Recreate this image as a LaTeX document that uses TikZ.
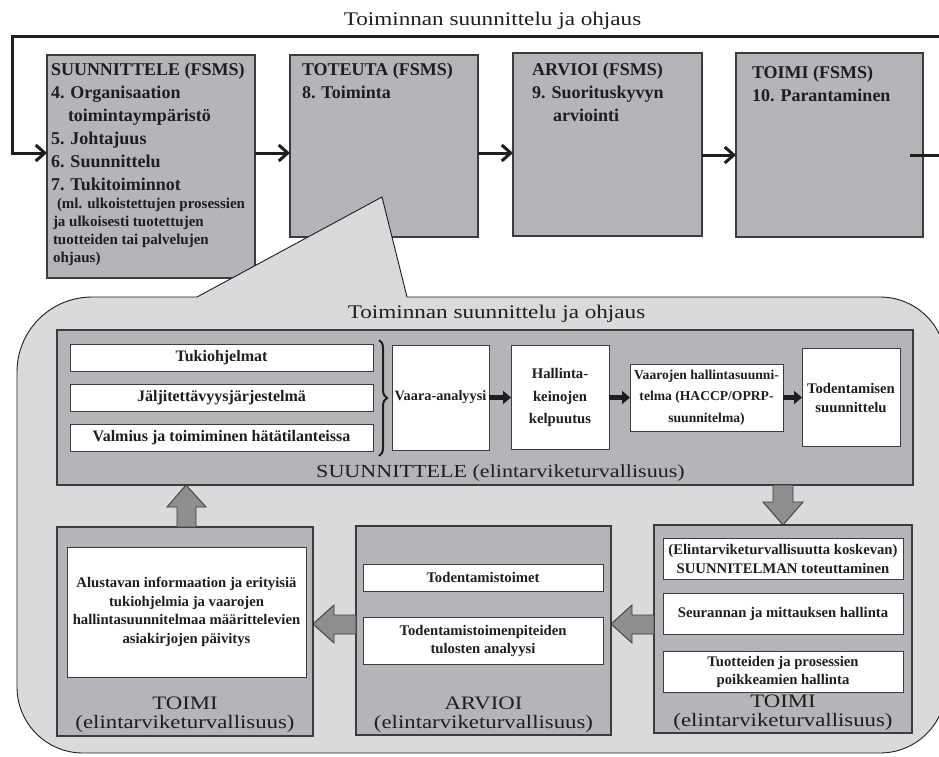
\documentclass[tikz,border=0pt]{standalone}
\usepackage{fontspec}
\setmainfont{Liberation Serif}
\newfontfamily\widefont{Liberation Serif}[FakeStretch=1.2]
\usetikzlibrary{arrows.meta,decorations.pathreplacing,calc}

\definecolor{boxgray}{HTML}{B4B5B8}
\definecolor{panelgray}{HTML}{D9DADB}
\definecolor{arrowgray}{HTML}{8D8E90}
\definecolor{edge}{HTML}{3C3C3C}
\definecolor{ink}{HTML}{1E1E1E}

\newcommand\fs[2]{\fontsize{#1}{#2}\selectfont}

\tikzset{
  every node/.style={inner sep=0pt, outer sep=0pt, text=ink},
  sized/.style 2 args={minimum width=#1pt, minimum height=#2pt},
  fsmsbox/.style={draw=edge, line width=1.1pt, fill=boxgray},
  fsmstext/.style={anchor=north west, align=left, font=\bfseries\fs{18}{23}},
  phasebox/.style={draw=edge, line width=1.1pt, fill=boxgray},
  whitebox/.style={draw=edge, line width=1pt, fill=white, align=center, font=\bfseries\fs{14.7}{18.5}},
  flow/.style={draw=ink, line width=3pt, -{Straight Barb[length=9pt,width=16pt]}},
  stepflow/.style={draw=ink, line width=5pt, -{Triangle[length=8pt,width=13pt]}},
  blockarrow/.style={draw=edge, line width=0.9pt, fill=arrowgray, line join=miter},
  panel/.style={draw=ink, line width=0.9pt, fill=panelgray},
  titletext/.style={font=\widefont\fs{19.3}{23}},
  phaselabel/.style={align=center, font=\widefont\fs{19}{19}},
}

\begin{document}
\begin{tikzpicture}[x=1pt, y=-1pt]
\useasboundingbox (0,0) rectangle (939,757);
\clip (0,0) rectangle (939,757);

% ---------- FSMS cycle ----------
\node[titletext, anchor=base] (toptitle) at (492.5,26) {Toiminnan suunnittelu ja ohjaus};

\node[fsmsbox, sized={208}{223}] (B1) at (151,166.5) {};
\node[fsmsbox, sized={188}{182}] (B2) at (384,146) {};
\node[fsmsbox, sized={189}{183}] (B3) at (607.5,144.5) {};
\node[fsmsbox, sized={187}{184}] (B4) at (829.5,145) {};

\node[fsmstext] (B1t) at (51,63) {SUUNNITTELE (FSMS)\\4. Organisaation\\\hspace*{17pt}toimintaympäristö\\5. Johtajuus\\6. Suunnittelu\\7. Tukitoiminnot};
\node[anchor=north west, align=left, font=\bfseries\fs{15}{18}] (B1s) at (53,198.5)
  {\hspace*{4pt}(ml. ulkoistettujen prosessien\\ja ulkoisesti tuotettujen\\tuotteiden tai palvelujen\\ohjaus)};
\node[fsmstext] (B2t) at (302,63) {TOTEUTA (FSMS)\\8. Toiminta};
\node[fsmstext] (B3t) at (532,63) {ARVIOI (FSMS)\\9. Suorituskyvyn\\\hspace*{21pt}arviointi};
\node[fsmstext] (B4t) at (752,66) {TOIMI (FSMS)\\10. Parantaminen};

\draw[flow] (B1.east |- 0,153) -- (B2.west |- 0,153);
\draw[flow] (B2.east |- 0,153) -- (B3.west |- 0,153);
\draw[flow] (B3.east |- 0,155) -- (B4.west |- 0,155);

\coordinate (loopout) at (910,155);
\draw[flow] (loopout) -- (950,155) -- (950,37) -- (12,37) -- (12,153) -- (B1.west |- 0,153);

% ---------- detail panel called out from TOTEUTA ----------
\path[panel] (197,297) -- (382,197) -- (407,297) -- (880,297)
  arc[start angle=90, end angle=0, radius=66pt] -- (946,687)
  arc[start angle=0, end angle=-90, radius=66pt] -- (83,753)
  arc[start angle=-90, end angle=-180, radius=66pt] -- (17,372)
  arc[start angle=180, end angle=90, radius=75pt] -- cycle;

\node[titletext, anchor=base] (paneltitle) at (496.5,318) {Toiminnan suunnittelu ja ohjaus};

% planning block
\node[phasebox, sized={856}{155}] (S) at (485,407.5) {};
\node[font=\widefont\fs{18.4}{22}, anchor=base] (Slabel) at (500.5,477) {SUUNNITTELE (elintarviketurvallisuus)};

\node[whitebox, sized={303}{27}, font=\bfseries\fs{16}{19}] (L1) at (221.5,357.5) {Tukiohjelmat};
\node[whitebox, sized={303}{27}, font=\bfseries\fs{16}{19}] (L2) at (221.5,397.5) {Jäljitettävyysjärjestelmä};
\node[whitebox, sized={303}{27}, font=\bfseries\fs{16}{19}] (L3) at (221.5,437.5) {Valmius ja toimiminen hätätilanteissa};

\coordinate (braceTop) at (379,340);
\coordinate (braceBot) at (379,456);
\draw[ink, line width=2pt, decorate, decoration={brace, amplitude=8pt}] (braceTop) -- (braceBot);

\node[whitebox, sized={97}{105}, font=\bfseries\fs{14.3}{18}] (V) at (440.5,397.5) {Vaara-analyysi};
\node[whitebox, sized={98}{104}, font=\bfseries\fs{14.7}{22.5}] (H) at (560,397.5) {Hallinta-\\keinojen\\kelpuutus};
\node[whitebox, sized={153}{67}, font=\bfseries\fs{13.6}{21.5}] (VH) at (706.5,397.5) {Vaarojen hallintasuunni-\\telma (HACCP/OPRP-\\suunnitelma)};
\node[whitebox, sized={98}{98}, font=\bfseries\fs{14.7}{19}] (T) at (851,397.5) {Todentamisen\\suunnittelu};

\draw[stepflow] (V) -- (H);
\draw[stepflow] (H) -- (VH);
\draw[stepflow] (VH) -- (T);

% doing / checking / acting blocks
\node[phasebox, sized={256}{209}] (TL) at (185,631.5) {};
\node[phasebox, sized={255}{209}] (AR) at (483.5,630.5) {};
\node[phasebox, sized={258}{208}] (TR) at (783,629) {};

\node[whitebox, sized={239}{130}] (W1) at (186.5,612) {Alustavan informaation ja erityisiä\\tukiohjelmia ja vaarojen\\hallintasuunnitelmaa määrittelevien\\asiakirjojen päivitys};

\node[whitebox, sized={240}{27}] (AR1) at (483,577.5) {Todentamistoimet};
\node[whitebox, sized={240}{47}, font=\bfseries\fs{14.7}{18}] (AR2) at (483,640.5) {Todentamistoimenpiteiden\\tulosten analyysi};

\node[whitebox, sized={240}{41}, font=\bfseries\fs{14.7}{19}] (TR1) at (783,558.5) {(Elintarviketurvallisuutta koskevan)\\SUUNNITELMAN toteuttaminen};
\node[whitebox, sized={240}{41}] (TR2) at (783,613.5) {Seurannan ja mittauksen hallinta};
\node[whitebox, sized={240}{41}, font=\bfseries\fs{14.7}{18}] (TR3) at (783,671.5) {Tuotteiden ja prosessien\\poikkeamien hallinta};

\node[phaselabel, anchor=south] (TLlabel) at (185,733) {TOIMI\\(elintarviketurvallisuus)};
\node[phaselabel, anchor=south] (ARlabel) at (483.5,733) {ARVIOI\\(elintarviketurvallisuus)};
\node[phaselabel, anchor=south] (TRlabel) at (783,731) {TOIMI\\(elintarviketurvallisuus)};

% block arrows between the phases
\draw[blockarrow] (773,0 |- S.south) -- ++(20,0) -- ++(0,17) -- ++(10,0) -- (TR.north) -- ++(-20,-23) -- ++(10,0) -- cycle;
\draw[blockarrow] (TR.west |- 0,615) -- ++(-22,0) -- ++(0,-10) -- (AR.east |- 0,624) -- ++(21,19) -- ++(0,-9) -- (TR.west |- 0,634) -- cycle;
\draw[blockarrow] (AR.west |- 0,615) -- ++(-22,0) -- ++(0,-10) -- (TL.east |- 0,624) -- ++(21,19) -- ++(0,-9) -- (AR.west |- 0,634) -- cycle;
\draw[blockarrow] (177,0 |- TL.north) -- ++(0,-20) -- ++(-10,0) -- (186,0 |- S.south) -- ++(20,22) -- ++(-10,0) -- (196,0 |- TL.north) -- cycle;

\end{tikzpicture}
\end{document}
